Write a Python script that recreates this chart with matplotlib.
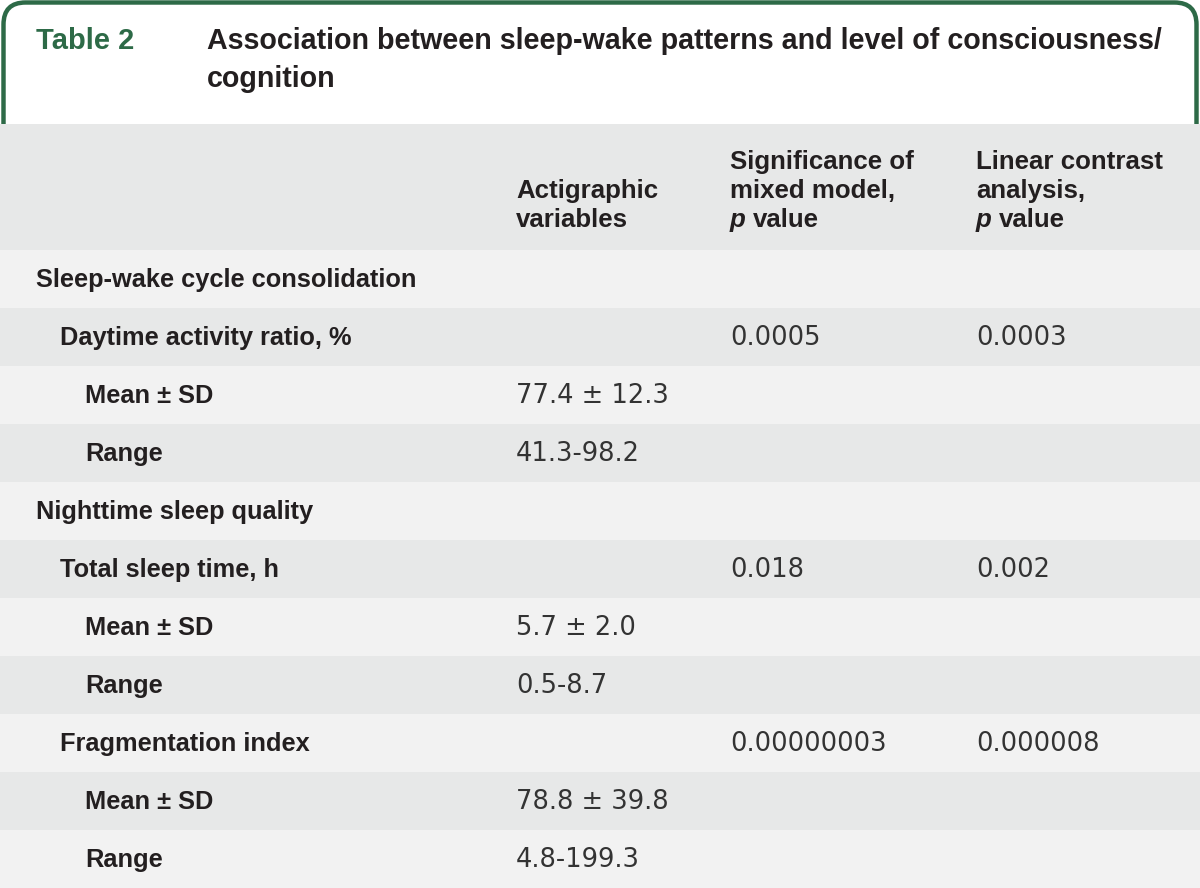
import matplotlib
matplotlib.use("Agg")
import matplotlib.pyplot as plt
from matplotlib.patches import FancyBboxPatch

# table content
table_label = "Table 2"
title_lines = ["Association between sleep-wake patterns and level of consciousness/",
               "cognition"]
col_headers = [["Actigraphic", "variables"],
               ["Significance of", "mixed model,", "p value"],
               ["Linear contrast", "analysis,", "p value"]]
row_labels = ["Sleep-wake cycle consolidation", "Daytime activity ratio, %",
              "Mean \u00b1 SD", "Range",
              "Nighttime sleep quality", "Total sleep time, h",
              "Mean \u00b1 SD", "Range",
              "Fragmentation index", "Mean \u00b1 SD", "Range"]
row_levels = [0, 1, 2, 2, 0, 1, 2, 2, 1, 2, 2]
actigraphic = ["", "", "77.4 \u00b1 12.3", "41.3-98.2",
               "", "", "5.7 \u00b1 2.0", "0.5-8.7",
               "", "78.8 \u00b1 39.8", "4.8-199.3"]
mixed_p = ["", "0.0005", "", "", "", "0.018", "", "", "0.00000003", "", ""]
contrast_p = ["", "0.0003", "", "", "", "0.002", "", "", "0.000008", "", ""]

GREEN = "#2d6a47"
DARK = "#e7e8e8"
LIGHT = "#f2f2f2"
TXT = "#231f20"
FONT = "Liberation Sans"

W, H = 1200, 888
fig = plt.figure(figsize=(W / 100, H / 100), dpi=100)
ax = fig.add_axes([0, 0, 1, 1])
ax.set_xlim(0, W)
ax.set_ylim(H, 0)
ax.axis("off")

header_top, header_bot = 124, 250
row_h = (H - header_bot) / len(row_labels)
col_x = [516, 730, 976]
indent = [36, 60, 85]

# green rounded frame around the title block (bottom hidden under header)
frame = FancyBboxPatch((3.5, 2.5), W - 7, 300, boxstyle="round,pad=0,rounding_size=22",
                       fc="white", ec=GREEN, lw=3.2, zorder=1)
ax.add_patch(frame)

ax.text(36, 41, table_label, color=GREEN, fontsize=21, fontweight="bold",
        family=FONT, va="center", zorder=5)
for i, line in enumerate(title_lines):
    ax.text(207, 41 + i * 38, line, color=TXT, fontsize=20.6, fontweight="bold",
            family=FONT, va="center", zorder=5)

# header band
ax.barh((header_top + header_bot) / 2, W, height=header_bot - header_top, left=0,
        color=DARK, zorder=2)

# row bands
centers = [header_bot + row_h * (i + 0.5) for i in range(len(row_labels))]
colors = [LIGHT if i % 2 == 0 else DARK for i in range(len(row_labels))]
ax.barh(centers, W, height=row_h, left=0, color=colors, zorder=2)

# column headers, bottom aligned
line_h = 29
hsize = 18.6
for x, lines in zip(col_x, col_headers):
    n = len(lines)
    for j, line in enumerate(lines):
        y = 220 - (n - 1 - j) * line_h
        if line.startswith("p "):
            ax.text(x, y, "p", color=TXT, fontsize=hsize, fontweight="bold",
                    fontstyle="italic", family=FONT, va="center", zorder=5)
            ax.text(x + 23, y, line[2:], color=TXT, fontsize=hsize, fontweight="bold",
                    family=FONT, va="center", zorder=5)
        else:
            ax.text(x, y, line, color=TXT, fontsize=hsize, fontweight="bold",
                    family=FONT, va="center", zorder=5)

for i, yc in enumerate(centers):
    ax.text(indent[row_levels[i]], yc + 1, row_labels[i], color=TXT, fontsize=18.3,
            fontweight="bold", family=FONT, va="center", zorder=5)
    for x, val in zip(col_x, (actigraphic[i], mixed_p[i], contrast_p[i])):
        if val:
            ax.text(x, yc + 1, val, color="#333333", fontsize=18.5,
                    family="DejaVu Sans", va="center", zorder=5)

fig.savefig("out.png", dpi=100)
